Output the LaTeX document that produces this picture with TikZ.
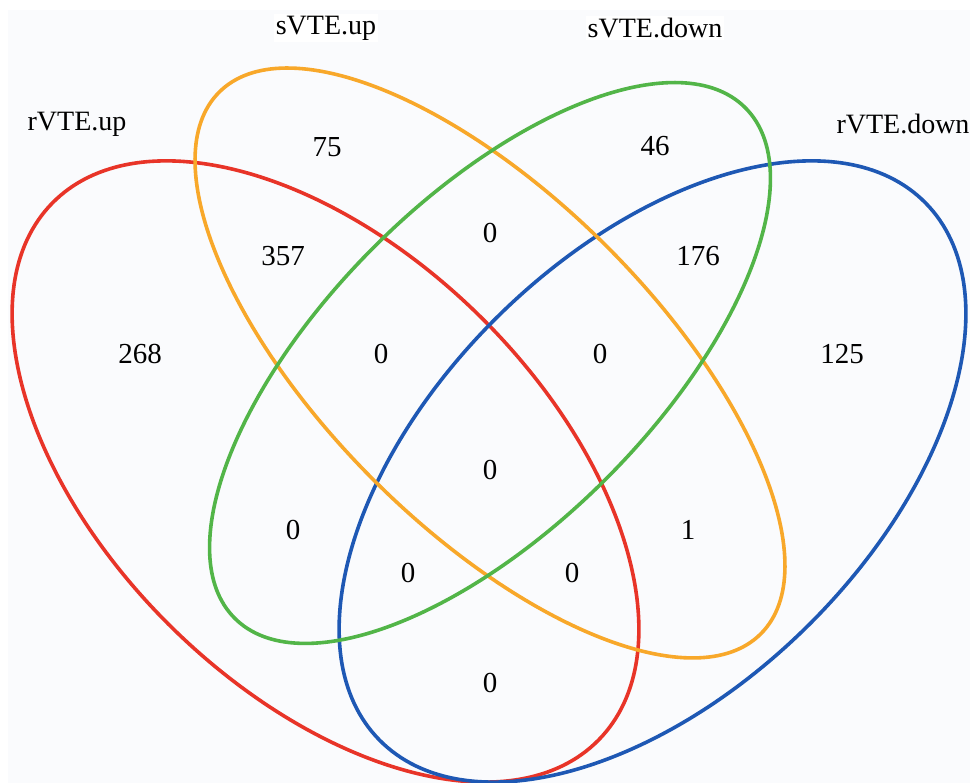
\documentclass[tikz,border=0pt]{standalone}
\usepackage{fontspec}
\setmainfont{Liberation Serif}
\definecolor{cred}{RGB}{232,52,40}
\definecolor{corange}{RGB}{248,168,42}
\definecolor{cgreen}{RGB}{82,181,72}
\definecolor{cblue}{RGB}{30,88,180}
\definecolor{bgc}{RGB}{250,251,253}
\begin{document}
\begin{tikzpicture}[x=1pt,y=1pt,
  setline/.style={line width=3.6pt},
  setlabel/.style={font=\fontsize{28}{32}\selectfont, inner sep=2pt},
  count/.style={font=\fontsize{29}{33}\selectfont, inner sep=0pt}]
\useasboundingbox (0,0) rectangle (970,783);
\fill[white] (0,0) rectangle (970,783);
\fill[bgc] (8,0) rectangle (970,773);
% ellipses (pixel coords, y up = 783 - y)
\draw[setline, cred]    (325.5,311.5) ellipse[x radius=383, y radius=219, rotate=-44.5];
\draw[setline, cblue]   (652.5,311.5) ellipse[x radius=383, y radius=219, rotate=44.5];
\draw[setline, corange] (490,420) ellipse[x radius=383, y radius=165, rotate=-45];
\draw[setline, cgreen]  (490,420) ellipse[x radius=361, y radius=164, rotate=45];
% set labels
\node[setlabel] (lrup) at (77,659) {rVTE.up};
\node[setlabel, fill=white] (lsup) at (326,755) {sVTE.up};
\node[setlabel, fill=white] (lsdown) at (655,755) {sVTE.down};
\node[setlabel] (lrdown) at (903,659) {rVTE.down};
% counts
\node[count] (n75)  at (327,636) {75};
\node[count] (n357) at (283,527) {357};
\node[count] (n268) at (140,429) {268};
\node[count] (nl)   at (381,429) {0};
\node[count] (n46)  at (655,637) {46};
\node[count] (n176) at (698,527) {176};
\node[count] (n125) at (842,429) {125};
\node[count] (nr)   at (600,429) {0};
\node[count] (nt)   at (490,550) {0};
\node[count] (nc)   at (490,313) {0};
\node[count] (nll)  at (293,253) {0};
\node[count] (nlm)  at (408,210) {0};
\node[count] (nrm)  at (572,210) {0};
\node[count] (n1)   at (688,253) {1};
\node[count] (nb)   at (490,100) {0};
\end{tikzpicture}
\end{document}
